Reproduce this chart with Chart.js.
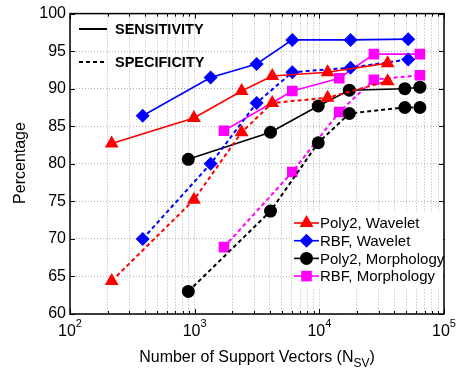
<!DOCTYPE html>
<html><head><meta charset="utf-8">
<script src="https://cdn.jsdelivr.net/npm/chart.js@4"></script>
<style>html,body{margin:0;padding:0;background:#fff}#w{width:471px;height:376px}</style>
</head><body><div id="w"><canvas id="c" width="471" height="376"></canvas></div>
<script>
// Data
const seriesNames = ['Poly2, Wavelet', 'RBF, Wavelet', 'Poly2, Morphology', 'RBF, Morphology'];
const poly2WaveletX = [216, 986, 2380, 4190, 11650, 35300];
const poly2WaveletSens = [82.7, 86.1, 89.7, 91.7, 92.2, 93.4];
const poly2WaveletSpec = [64.4, 75.2, 84.2, 88.1, 88.8, 91.0];
const rbfWaveletX = [383, 1343, 3140, 6070, 17800, 51600];
const rbfWaveletSens = [86.4, 91.5, 93.3, 96.5, 96.5, 96.6];
const rbfWaveletSpec = [70.0, 80.0, 88.1, 92.2, 92.8, 93.9];
const poly2MorphX = [889, 4060, 9800, 17400, 48500, 64100];
const poly2MorphSens = [80.6, 84.2, 87.7, 89.8, 90.0, 90.2];
const poly2MorphSpec = [63.0, 73.7, 82.8, 86.7, 87.5, 87.5];
const rbfMorphX = [1718, 6070, 14450, 27400, 64100];
const rbfMorphSens = [84.4, 89.7, 91.4, 94.6, 94.6];
const rbfMorphSpec = [68.9, 78.9, 86.9, 91.2, 91.8];
const xTickExponents = [2, 3, 4, 5];
const yTicks = [60, 65, 70, 75, 80, 85, 90, 95, 100];
const legendTop = ['SENSITIVITY', 'SPECIFICITY'];
const xTitleMain = 'Number of Support Vectors (N';
const xTitleSub = 'SV';
const yTitle = 'Percentage';

const styles = [
  {color:'#ff0000', shape:'triangle', r:8},
  {color:'#0000ff', shape:'rectRot', r:7},
  {color:'#000000', shape:'circle', r:6.5},
  {color:'#ff00ff', shape:'rect', r:7.5}
];
const groups = [
  [poly2WaveletX, poly2WaveletSens, poly2WaveletSpec],
  [rbfWaveletX, rbfWaveletSens, rbfWaveletSpec],
  [poly2MorphX, poly2MorphSens, poly2MorphSpec],
  [rbfMorphX, rbfMorphSens, rbfMorphSpec]
];
const pts = (xs, ys) => xs.map((x, i) => ({x, y: ys[i]}));
const datasets = [];
groups.forEach((g, i) => {
  const s = styles[i];
  datasets.push({label: seriesNames[i] + ' spec', data: pts(g[0], g[2]), borderColor: s.color, backgroundColor: s.color,
    borderWidth: 2, borderDash: [4, 3], pointStyle: s.shape, pointRadius: s.r, pointBorderWidth: 0, tension: 0});
  datasets.push({label: seriesNames[i], data: pts(g[0], g[1]), borderColor: s.color, backgroundColor: s.color,
    borderWidth: 1.6, pointStyle: s.shape, pointRadius: s.r, pointBorderWidth: 0, tension: 0});
});

const FONT = '"Liberation Sans", Arial, sans-serif';

const deco = {
  id: 'deco',
  afterDatasetsDraw(chart) {
    const ctx = chart.ctx, a = chart.chartArea, xs = chart.scales.x, ys = chart.scales.y;
    ctx.save();
    // frame
    ctx.strokeStyle = '#000'; ctx.lineWidth = 1.5; ctx.setLineDash([]);
    ctx.strokeRect(a.left, a.top, a.right - a.left, a.bottom - a.top);
    // ticks
    ctx.lineWidth = 1;
    ctx.beginPath();
    for (let e = 2; e <= 5; e++) {
      for (let m = 1; m <= 9; m++) {
        const v = m * Math.pow(10, e);
        if (v > 100000) break;
        const px = Math.round(xs.getPixelForValue(v)) + 0.5;
        const L = m === 1 ? 5 : 3;
        ctx.moveTo(px, a.bottom); ctx.lineTo(px, a.bottom - L);
        ctx.moveTo(px, a.top); ctx.lineTo(px, a.top + L);
      }
    }
    yTicks.forEach(v => {
      const py = Math.round(ys.getPixelForValue(v)) + 0.5;
      ctx.moveTo(a.left, py); ctx.lineTo(a.left + 5, py);
      ctx.moveTo(a.right, py); ctx.lineTo(a.right - 5, py);
    });
    ctx.stroke();
    // x tick labels with superscripts
    ctx.fillStyle = '#000';
    xTickExponents.forEach(e => {
      const px = xs.getPixelForValue(Math.pow(10, e));
      ctx.font = '16px ' + FONT;
      const wb = ctx.measureText('10').width;
      ctx.font = '11px ' + FONT;
      const we = ctx.measureText(String(e)).width;
      const x0 = px - (wb + we) / 2;
      ctx.textBaseline = 'alphabetic'; ctx.textAlign = 'left';
      ctx.font = '16px ' + FONT;
      ctx.fillText('10', x0, 336);
      ctx.font = '11px ' + FONT;
      ctx.fillText(String(e), x0 + wb, 327);
    });
    // x title with subscript
    ctx.font = '16px ' + FONT;
    const w1 = ctx.measureText(xTitleMain).width;
    ctx.font = '12px ' + FONT;
    const w2 = ctx.measureText(xTitleSub).width;
    ctx.font = '16px ' + FONT;
    const w3 = ctx.measureText(')').width;
    let tx = 257 - (w1 + w2 + w3) / 2;
    ctx.fillText(xTitleMain, tx, 362);
    ctx.font = '12px ' + FONT;
    ctx.fillText(xTitleSub, tx + w1, 367);
    ctx.font = '16px ' + FONT;
    ctx.fillText(')', tx + w1 + w2, 362);
    // y title
    ctx.save();
    ctx.translate(21, 163); ctx.rotate(-Math.PI / 2);
    ctx.textAlign = 'center'; ctx.textBaseline = 'middle';
    ctx.font = '16px ' + FONT;
    ctx.fillText(yTitle, 0, 0);
    ctx.restore();
    // top-left legend
    ctx.font = 'bold 14.5px ' + FONT;
    ctx.textAlign = 'left'; ctx.textBaseline = 'middle';
    ctx.strokeStyle = '#000'; ctx.fillStyle = '#000';
    ctx.lineWidth = 2;
    [[29, []], [62, [4, 3]]].forEach((row, i) => {
      ctx.setLineDash(row[1]);
      ctx.beginPath(); ctx.moveTo(79, row[0]); ctx.lineTo(107, row[0]); ctx.stroke();
      ctx.setLineDash([]);
      ctx.fillText(legendTop[i], 115, row[0] + 1);
    });
    // series legend
    ctx.fillStyle = '#fff';
    ctx.fillRect(292, 212, 151, 76);
    ctx.font = '15px ' + FONT;
    seriesNames.forEach((n, i) => {
      const y = 223 + i * 17.7;
      const s = styles[i];
      ctx.strokeStyle = s.color; ctx.lineWidth = 1.6; ctx.setLineDash([]);
      ctx.beginPath(); ctx.moveTo(294, y); ctx.lineTo(319, y); ctx.stroke();
      ctx.fillStyle = s.color;
      Chart.helpers.drawPoint(ctx, {pointStyle: s.shape, radius: s.r, borderWidth: 0}, 306.5, y);
      ctx.fillStyle = '#000';
      ctx.fillText(n, 320, y + 1);
    });
    ctx.restore();
  }
};

new Chart(document.getElementById('c'), {
  type: 'line',
  data: {datasets},
  plugins: [deco],
  options: {
    responsive: false, animation: false, devicePixelRatio: 1,
    layout: {padding: {left: 0, top: 12, right: 27, bottom: 0}},
    plugins: {legend: {display: false}, tooltip: {enabled: false}},
    scales: {
      x: {
        type: 'logarithmic', min: 100, max: 100000,
        afterBuildTicks(scale) {
          const t = [];
          for (let e = 2; e <= 5; e++) for (let m = 1; m <= 9; m++) {
            const v = m * Math.pow(10, e); if (v <= 100000) t.push({value: v});
          }
          scale.ticks = t;
        },
        afterFit(scale) { scale.height = 62; },
        ticks: {callback: () => '', autoSkip: false, maxRotation: 0},
        grid: {color: '#a0a0a0', lineWidth: 0.8, drawTicks: false},
        border: {display: false, dash: [1, 2]}
      },
      y: {
        min: 60, max: 100,
        afterBuildTicks(scale) { scale.ticks = yTicks.map(v => ({value: v})); },
        afterFit(scale) { scale.width = 70; },
        ticks: {color: '#000', font: {family: FONT, size: 16}, padding: 4},
        grid: {color: '#a0a0a0', lineWidth: 0.8, drawTicks: false},
        border: {display: false, dash: [1, 2]}
      }
    }
  }
});
</script></body></html>
